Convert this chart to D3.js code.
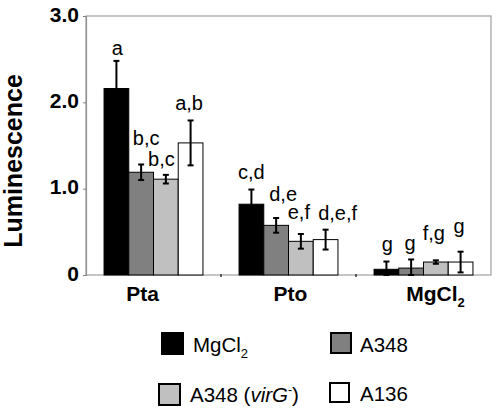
<!DOCTYPE html>
<html><head><meta charset="utf-8">
<script src="https://cdn.jsdelivr.net/npm/d3@7"></script>
<style>
html,body{margin:0;padding:0;background:#fff;}
svg{display:block;font-family:Arial,"Liberation Sans",sans-serif;}
</style></head>
<body><svg id="c" width="498" height="412"></svg>
<script>
// ---- data ----
const categories = ["Pta", "Pto", "MgCl2"];
const series = ["MgCl2", "A348", "A348 (virG-)", "A136"];
const means = [
  [2.16, 1.19, 1.11, 1.53],
  [0.82, 0.575, 0.39, 0.41],
  [0.066, 0.08, 0.15, 0.15]
];
const errors = [
  [0.32, 0.09, 0.05, 0.26],
  [0.17, 0.085, 0.085, 0.115],
  [0.09, 0.10, 0.02, 0.12]
];
const letters = [
  ["a", "b,c", "b,c", "a,b"],
  ["c,d", "d,e", "e,f", "d,e,f"],
  ["g", "g", "f,g", "g"]
];
const yTicks = [0, 1, 2, 3];
const yTickLabels = ["0", "1.0", "2.0", "3.0"];

// ---- layout / style ----
const colors = ["#000000", "#808080", "#c0c0c0", "#ffffff"];
const letterGap = [[6, 19, 9, 10], [11, 17, 15, 10], [11, 9, 20, 19]];
const letterDx = [[1, 5, -4.5, -1.5], [0, 7, -2, 12], [1, -1, -2, -1.5]];
const catDx = [-11, 2, 12];

const svg = d3.select("#c");
const L = 86, R = 491, T = 16, B = 275;

const y = d3.scaleLinear().domain([0, 3]).range([B, T]);
const x0 = d3.scaleBand().domain(categories).range([L, R]).paddingInner(0).paddingOuter(0);
const x1 = d3.scaleBand().domain(series).range([0, x0.bandwidth()]).paddingInner(0).paddingOuter(0.73);

// frame
svg.append("rect").attr("x", L).attr("y", T).attr("width", R - L).attr("height", B - T)
  .attr("fill", "none").attr("stroke", "#a0a0a0").attr("stroke-width", 1.2);

// y axis
const yAxis = d3.axisLeft(y).tickValues(yTicks).tickSize(3).tickFormat((d, i) => yTickLabels[i]);
const ya = svg.append("g").attr("transform", `translate(${L},0)`).call(yAxis);
ya.select(".domain").attr("stroke", "#909090").attr("stroke-width", 1.2);
ya.selectAll(".tick line").attr("stroke", "#808080");
ya.selectAll(".tick text").attr("font-size", 21).attr("font-weight", "bold")
  .attr("font-family", "Arial, 'Liberation Sans', sans-serif").attr("fill", "#000")
  .attr("x", -7).attr("dy", "0.25em");

// category boundary ticks
svg.selectAll(".sep").data(categories.slice(1)).enter().append("line")
  .attr("x1", d => x0(d)).attr("x2", d => x0(d))
  .attr("y1", B - 1).attr("y2", B + 2).attr("stroke", "#333").attr("stroke-width", 1.5);

// bars
const groups = svg.selectAll(".grp").data(categories).enter().append("g")
  .attr("transform", d => `translate(${x0(d)},0)`);

groups.each(function (cat, ci) {
  const g = d3.select(this);
  series.forEach((s, si) => {
    const v = means[ci][si], e = errors[ci][si];
    const bx = x1(s), bw = x1.bandwidth();
    g.append("rect").attr("x", bx).attr("y", y(v)).attr("width", bw).attr("height", y(0) - y(v))
      .attr("fill", colors[si]).attr("stroke", "#000").attr("stroke-width", 1);
    const cx = bx + bw / 2;
    g.append("line").attr("x1", cx).attr("x2", cx).attr("y1", y(v + e)).attr("y2", y(Math.max(0, v - e)))
      .attr("stroke", "#000").attr("stroke-width", 2);
    [v + e, Math.max(0, v - e)].forEach(val => {
      g.append("line").attr("x1", cx - 3).attr("x2", cx + 3).attr("y1", y(val)).attr("y2", y(val))
        .attr("stroke", "#000").attr("stroke-width", 2);
    });
    g.append("text").attr("x", cx + letterDx[ci][si]).attr("y", y(v + e) - letterGap[ci][si])
      .attr("text-anchor", "middle").attr("font-size", 20).attr("fill", "#000").text(letters[ci][si]);
  });
});

// category labels
categories.forEach((c, i) => {
  const t = svg.append("text").attr("x", x0(c) + x0.bandwidth() / 2 + catDx[i]).attr("y", 301)
    .attr("text-anchor", "middle").attr("font-size", 21).attr("font-weight", "bold").attr("fill", "#000");
  if (c === "MgCl2") {
    t.append("tspan").text("MgCl");
    t.append("tspan").attr("font-size", 13).attr("dy", 6).text("2");
  } else t.text(c);
});

// y title
svg.append("text").attr("transform", "translate(22,161) rotate(-90)").attr("text-anchor", "middle")
  .attr("font-size", 25).attr("font-weight", "bold").attr("fill", "#000").text("Luminescence");

// legend
const legendPos = [
  {sx: 162, sy: 333, sw: 21, tx: 193, ty: 352},
  {sx: 331, sy: 333, sw: 20, tx: 360, ty: 352},
  {sx: 159, sy: 384, sw: 21, tx: 190, ty: 402},
  {sx: 330, sy: 383, sw: 19, tx: 360, ty: 401}
];
series.forEach((s, i) => {
  const p = legendPos[i];
  svg.append("rect").attr("x", p.sx).attr("y", p.sy).attr("width", p.sw).attr("height", p.sw)
    .attr("fill", colors[i]).attr("stroke", "#000").attr("stroke-width", 2);
  const t = svg.append("text").attr("x", p.tx).attr("y", p.ty).attr("font-size", 20.5).attr("fill", "#000");
  if (s === "MgCl2") {
    t.append("tspan").text("MgCl");
    t.append("tspan").attr("font-size", 13).attr("dy", 6).text("2");
  } else if (s === "A348 (virG-)") {
    t.append("tspan").text("A348 (");
    t.append("tspan").attr("font-style", "italic").text("virG");
    t.append("tspan").attr("font-size", 12).attr("dy", -8).text("-");
    t.append("tspan").attr("dy", 8).text(")");
  } else t.text(s);
});
</script></body></html>
